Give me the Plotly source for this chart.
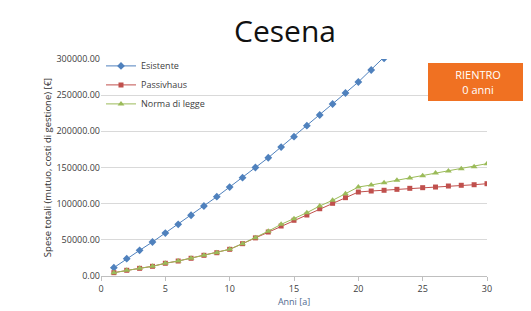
import plotly.graph_objects as go

anni = list(range(1, 31))
esistente = [11500, 24000, 35500, 47000, 59400, 71500, 84000, 96800, 109600, 123000,
             136000, 150000, 163500, 178300, 192600, 207800, 222600, 237800, 253000, 268200,
             284800, 301000, 318000, 335000, 352000, 370000, 388000, 406000, 425000, 444000]
passivhaus = [4600, 7900, 10600, 13400, 17600, 20700, 24500, 28600, 32200, 36900,
              44700, 52700, 60800, 69100, 77000, 84300, 93000, 100500, 108300, 116100,
              117500, 118500, 119800, 121200, 122100, 123000, 124400, 125400, 126200, 127600]
norma = [4600, 7900, 10600, 13400, 17600, 20700, 24500, 28600, 32200, 36900,
         44700, 53000, 62000, 71400, 79200, 87500, 96800, 104600, 113800, 123000,
         125800, 129000, 132300, 135500, 138700, 142400, 145200, 148300, 151100, 155300]

series = [
    ("Esistente", esistente, "#4F81BD", "diamond", 6),
    ("Passivhaus", passivhaus, "#C0504D", "square", 5),
    ("Norma di legge", norma, "#9BBB59", "triangle-up", 6),
]

fig = go.Figure()
for name, vals, col, sym, sz in series:
    fig.add_trace(go.Scatter(
        x=anni, y=vals, name=name, mode="lines+markers",
        line=dict(color=col, width=1),
        marker=dict(color=col, symbol=sym, size=sz),
    ))

fig.update_layout(
    width=531, height=311,
    margin=dict(l=93, r=52, t=51, b=43),
    paper_bgcolor="white", plot_bgcolor="white",
    font=dict(family="Open Sans", size=9, color="#404040"),
    title=dict(text="Cesena", x=277 / 531, xref="container", xanchor="center",
               y=1 - 23 / 311, yref="container", yanchor="middle",
               font=dict(family="Open Sans", size=30, color="#111111")),
    showlegend=True,
    legend=dict(x=0.0, y=1.035, xanchor="left", yanchor="top",
                bgcolor="rgba(0,0,0,0)", font=dict(size=9, color="#404040"),
                itemwidth=30, tracegroupgap=0),
    xaxis=dict(range=[0, 30], tickvals=[0, 5, 10, 15, 20, 25, 30],
               showgrid=False, showline=True, linecolor="#BFBFBF", linewidth=1,
               ticks="outside", ticklen=4, tickcolor="#BFBFBF",
               tickfont=dict(size=9, color="#404040"),
               title=dict(text="Anni [a]", font=dict(size=9, color="#4F6A8F"), standoff=2),
               zeroline=False),
    yaxis=dict(range=[0, 300000], tickvals=[0, 50000, 100000, 150000, 200000, 250000, 300000],
               tickformat=".2f", showgrid=True, gridcolor="#D9D9D9", gridwidth=1,
               showline=False, zeroline=False,
               tickfont=dict(size=9, color="#404040"),
               title=dict(text="Spese totali (mutuo, costi di gestione) [€]",
                          font=dict(size=9.5, color="#303030"), standoff=3)),
)

fig.add_annotation(
    xref="paper", yref="paper", x=(470 - 93) / 386, y=(268 - 74) / 217,
    xanchor="center", yanchor="middle",
    text="RIENTRO<br>0 anni", showarrow=False,
    font=dict(family="Open Sans", size=11, color="white"),
    bgcolor="#F07122", bordercolor="#F07122", borderwidth=1,
    width=96, height=34, align="center",
)

fig.write_html("out.html")
